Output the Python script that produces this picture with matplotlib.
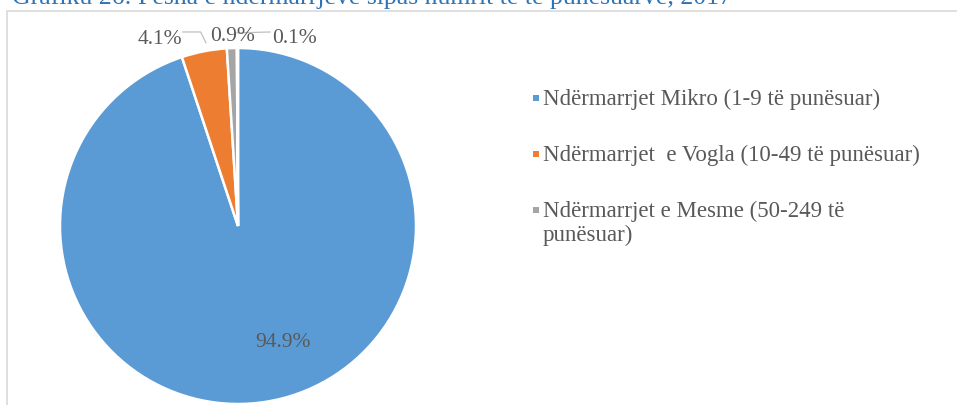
import matplotlib.pyplot as plt
import numpy as np
from matplotlib.patches import Rectangle

# Të dhënat
categories = [
    "Ndërmarrjet Mikro (1-9 të punësuar)",
    "Ndërmarrjet  e Vogla (10-49 të punësuar)",
    "Ndërmarrjet e Mesme (50-249 të\npunësuar)",
    "Ndërmarrjet e Mëdha (250+ të punësuar)",
]
shares = [94.9, 4.1, 0.9, 0.1]
colors = ["#5B9BD5", "#ED7D31", "#A5A5A5", "#FFC000"]
title = "Grafiku 26: Pesha e ndërmarrjeve sipas numrit të të punësuarve, 2017"

plt.rcParams["font.family"] = ["Liberation Serif", "DejaVu Serif"]
text_col = "#595959"

W, H = 957, 406
fig = plt.figure(figsize=(W / 100, H / 100), dpi=100)

# korniza e grafikut
fig.patches.append(Rectangle((7 / W, -0.1), 1.2, 1.1 - 12 / H, transform=fig.transFigure,
                             fill=False, edgecolor="#D9D9D9", linewidth=1.2))

# titulli (i prerë në krye si në origjinal)
fig.text(12 / W, 1 - 4 / H, title, color="#2E74B5", fontsize=18.5, va="baseline", ha="left")

cx, cy, R = 238, 227, 178
ax = fig.add_axes([(cx - R) / W, (H - cy - R) / H, 2 * R / W, 2 * R / H])
wedges, _ = ax.pie(shares, colors=colors, startangle=90, counterclock=False,
                   wedgeprops={"edgecolor": "white", "linewidth": 1.8})
ax.set_xlim(-1, 1)
ax.set_ylim(-1, 1)
ax.axis("off")

# etiketat e vlerave
label_pos = [(0.25, -0.65), (-0.44, 1.055), (-0.03, 1.07), (0.32, 1.06)]
for val, (x, y) in zip(shares, label_pos):
    ax.text(x, y, f"{val:.1f}%", ha="center", va="center", fontsize=15.5,
            color=text_col, clip_on=False)

# vijat udhëzuese
lc = "#BFBFBF"
ax.plot([-0.31, -0.21, -0.18], [1.09, 1.09, 1.03], color=lc, lw=0.9, clip_on=False)
ax.plot([0.18, -0.005], [1.09, 1.085], color=lc, lw=0.9, clip_on=False)

# legjenda (vetëm tre kategoritë e para, si në origjinal)
row_y = [99, 155, 211]
line_gap = 24
for cat, col, ry in zip(categories[:3], colors[:3], row_y):
    fig.patches.append(Rectangle((533 / W, 1 - (ry + 3) / H), 6 / W, 6 / H,
                                 transform=fig.transFigure, facecolor=col, edgecolor="none"))
    for i, line in enumerate(cat.split("\n")):
        fig.text(543 / W, 1 - (ry + 6 + i * line_gap) / H, line, fontsize=16.5,
                 color=text_col, ha="left", va="baseline")

fig.savefig("out.png", dpi=100)
